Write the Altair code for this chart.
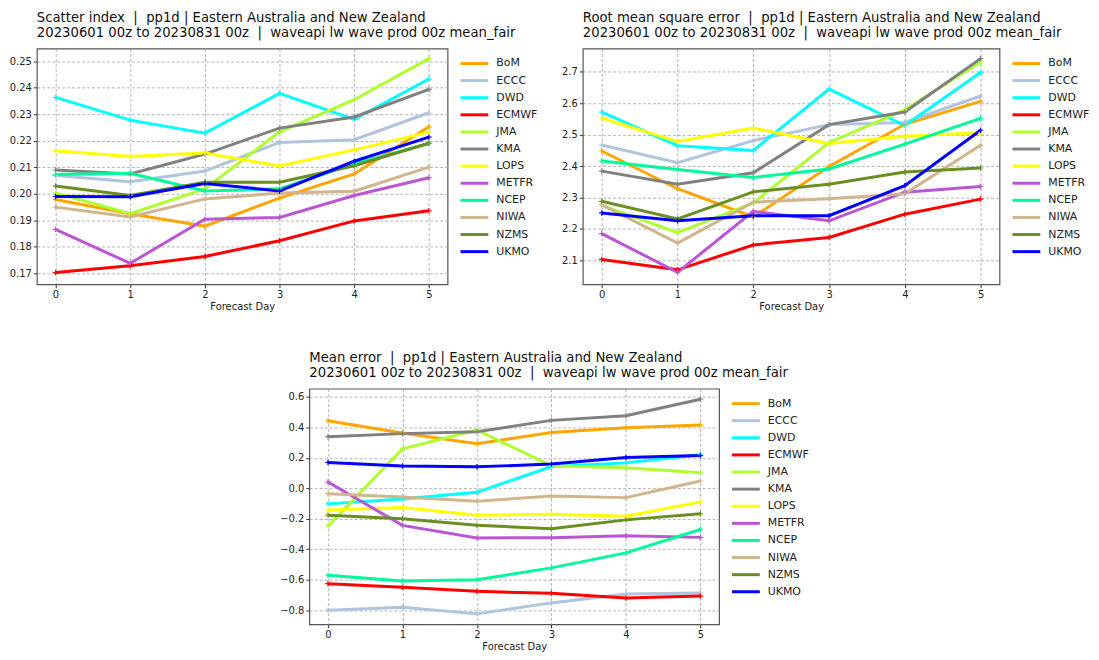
import altair as alt
import pandas as pd

MODELS = ["BoM", "ECCC", "DWD", "ECMWF", "JMA", "KMA", "LOPS", "METFR", "NCEP", "NIWA", "NZMS", "UKMO"]
COLORS = ["#FFA500", "#B0C4DE", "#00FFFF", "#FF0000", "#ADFF2F", "#808080",
          "#FFFF00", "#BA55D3", "#00FA9A", "#D2B48C", "#6B8E23", "#0000FF"]
DAYS = [0, 1, 2, 3, 4, 5]

# Scatter index
SI_BOM = [0.1979, 0.1925, 0.1878, 0.1984, 0.2075, 0.2253]
SI_ECCC = [0.2069, 0.2046, 0.2086, 0.2194, 0.2204, 0.2306]
SI_DWD = [0.2364, 0.2278, 0.2229, 0.2379, 0.2281, 0.2433]
SI_ECMWF = [0.1703, 0.1729, 0.1764, 0.1823, 0.1898, 0.1936]
SI_JMA = [0.2003, 0.1925, 0.2019, 0.2234, 0.2355, 0.2510]
SI_KMA = [0.2090, 0.2075, 0.2150, 0.2248, 0.2290, 0.2394]
SI_LOPS = [0.2163, 0.2141, 0.2154, 0.2105, 0.2166, 0.2233]
SI_METFR = [0.1866, 0.1738, 0.1904, 0.1911, 0.1994, 0.2061]
SI_NCEP = [0.2073, 0.2078, 0.2011, 0.2019, 0.2113, 0.2190]
SI_NIWA = [0.1950, 0.1913, 0.1981, 0.2003, 0.2010, 0.2101]
SI_NZMS = [0.2030, 0.1994, 0.2044, 0.2044, 0.2106, 0.2191]
SI_UKMO = [0.1990, 0.1989, 0.2039, 0.2011, 0.2123, 0.2214]

# Root mean square error
RMSE_BOM = [2.448, 2.328, 2.238, 2.399, 2.533, 2.606]
RMSE_ECCC = [2.467, 2.411, 2.481, 2.532, 2.539, 2.623]
RMSE_DWD = [2.572, 2.465, 2.450, 2.645, 2.529, 2.698]
RMSE_ECMWF = [2.103, 2.070, 2.149, 2.173, 2.247, 2.295]
RMSE_JMA = [2.275, 2.188, 2.283, 2.475, 2.579, 2.731]
RMSE_KMA = [2.384, 2.342, 2.379, 2.532, 2.572, 2.742]
RMSE_LOPS = [2.553, 2.478, 2.521, 2.472, 2.495, 2.506]
RMSE_METFR = [2.185, 2.062, 2.256, 2.226, 2.317, 2.335]
RMSE_NCEP = [2.416, 2.389, 2.364, 2.391, 2.470, 2.552]
RMSE_NIWA = [2.277, 2.155, 2.285, 2.296, 2.312, 2.466]
RMSE_NZMS = [2.288, 2.232, 2.318, 2.342, 2.381, 2.394]
RMSE_UKMO = [2.251, 2.226, 2.242, 2.242, 2.338, 2.514]

# Mean error
ME_BOM = [0.443, 0.363, 0.293, 0.367, 0.398, 0.415]
ME_ECCC = [-0.800, -0.780, -0.824, -0.752, -0.693, -0.687]
ME_DWD = [-0.102, -0.070, -0.026, 0.143, 0.167, 0.220]
ME_ECMWF = [-0.626, -0.650, -0.676, -0.689, -0.720, -0.707]
ME_JMA = [-0.248, 0.259, 0.383, 0.148, 0.135, 0.102]
ME_KMA = [0.339, 0.359, 0.372, 0.446, 0.476, 0.585]
ME_LOPS = [-0.143, -0.126, -0.176, -0.170, -0.183, -0.089]
ME_METFR = [0.041, -0.243, -0.326, -0.324, -0.311, -0.322]
ME_NCEP = [-0.570, -0.609, -0.600, -0.522, -0.424, -0.270]
ME_NIWA = [-0.035, -0.057, -0.085, -0.050, -0.061, 0.048]
ME_NZMS = [-0.176, -0.200, -0.243, -0.265, -0.207, -0.167]
ME_UKMO = [0.170, 0.146, 0.141, 0.159, 0.202, 0.215]

SI_TICKS = [0.17, 0.18, 0.19, 0.20, 0.21, 0.22, 0.23, 0.24, 0.25]
RMSE_TICKS = [2.1, 2.2, 2.3, 2.4, 2.5, 2.6, 2.7]
ME_TICKS = [-0.8, -0.6, -0.4, -0.2, 0.0, 0.2, 0.4, 0.6]

SEP = " \u00a0|\u00a0 "
REGION = "pp1d | Eastern Australia and New Zealand"
LINE2 = "20230601 00z to 20230831 00z" + SEP + "waveapi lw wave prod 00z mean_fair"

FONT = "DejaVu Sans"


def to_frame(series_list):
    rows = []
    for m, vals in zip(MODELS, series_list):
        for d, v in zip(DAYS, vals):
            rows.append({"model": m, "day": d, "value": v})
    return pd.DataFrame(rows)


def panel(df, title, domain, ticks, fmt, width, height, min_extent):
    base = alt.Chart(df)
    x = alt.X("day:Q", scale=alt.Scale(domain=[-0.25, 5.25], nice=False, zero=False),
              axis=alt.Axis(values=DAYS, format="d", title="Forecast Day", titlePadding=2))
    y = alt.Y("value:Q", scale=alt.Scale(domain=domain, nice=False, zero=False),
              axis=alt.Axis(values=ticks, format=fmt, title=None, minExtent=min_extent))
    color = alt.Color("model:N", sort=MODELS,
                      scale=alt.Scale(domain=MODELS, range=COLORS),
                      legend=alt.Legend(title=None, orient="none", legendX=width + 18.5, legendY=6.5,
                                        symbolType="M-2,0L2,0", symbolSize=196, symbolStrokeWidth=3,
                                        labelOffset=13.5, labelFontSize=11, labelFont=FONT,
                                        labelColor="#222", rowPadding=2.2, padding=0))
    lines = base.mark_line(strokeWidth=3, clip=True).encode(x=x, y=y, color=color)
    pts = base.mark_point(shape="M-1,0L1,0M0,-1L0,1", size=30, strokeWidth=1.2,
                          filled=False, opacity=1).encode(
        x=x, y=y,
        stroke=alt.Stroke("model:N", sort=MODELS, scale=alt.Scale(domain=MODELS, range=COLORS), legend=None))
    return alt.layer(lines, pts).properties(
        width=width, height=height,
        title=alt.TitleParams(text=title, anchor="start", frame="group", fontSize=13.3, font=FONT,
                              fontWeight="normal", lineHeight=15, offset=9.5, color="#111"))


si = panel(to_frame([SI_BOM, SI_ECCC, SI_DWD, SI_ECMWF, SI_JMA, SI_KMA, SI_LOPS, SI_METFR,
                     SI_NCEP, SI_NIWA, SI_NZMS, SI_UKMO]),
           ["Scatter index" + SEP + REGION, LINE2], [0.1659, 0.2548], SI_TICKS, ".2f", 413, 237, 28)
rmse = panel(to_frame([RMSE_BOM, RMSE_ECCC, RMSE_DWD, RMSE_ECMWF, RMSE_JMA, RMSE_KMA, RMSE_LOPS,
                       RMSE_METFR, RMSE_NCEP, RMSE_NIWA, RMSE_NZMS, RMSE_UKMO]),
             ["Root mean square error" + SEP + REGION, LINE2], [2.024, 2.774], RMSE_TICKS, ".1f", 419, 237, 30)
me = panel(to_frame([ME_BOM, ME_ECCC, ME_DWD, ME_ECMWF, ME_JMA, ME_KMA, ME_LOPS, ME_METFR,
                     ME_NCEP, ME_NIWA, ME_NZMS, ME_UKMO]),
           ["Mean error" + SEP + REGION, LINE2], [-0.893, 0.654], ME_TICKS, ".1f", 412, 237, 30)

spacer = alt.Chart(pd.DataFrame({"a": [0]})).mark_point(opacity=0).encode(
    x=alt.X("a:Q", axis=None), y=alt.Y("a:Q", axis=None)
).properties(width=242, height=10, view=alt.ViewBackground(stroke="transparent"))

top = alt.hconcat(si, rmse, spacing=13).resolve_scale(color="independent", stroke="independent")
bottom = alt.hconcat(spacer, me, spacing=0).resolve_scale(color="independent", stroke="independent")

chart = alt.vconcat(top, bottom, spacing=37).resolve_scale(
    color="independent", stroke="independent"
).properties(padding=0).configure_axis(
    labelFont=FONT, labelFontSize=10, labelColor="#222",
    titleFont=FONT, titleFontSize=10, titleFontWeight="normal", titleColor="#222",
    domain=False, tickColor="#333", tickSize=3.5, labelPadding=2,
    gridColor="#a0a0a0", gridDash=[3, 2], gridWidth=0.8
).configure_view(stroke="#555", strokeWidth=1.2)

chart.save("out.html", embed_options={"renderer": "svg", "actions": False})
